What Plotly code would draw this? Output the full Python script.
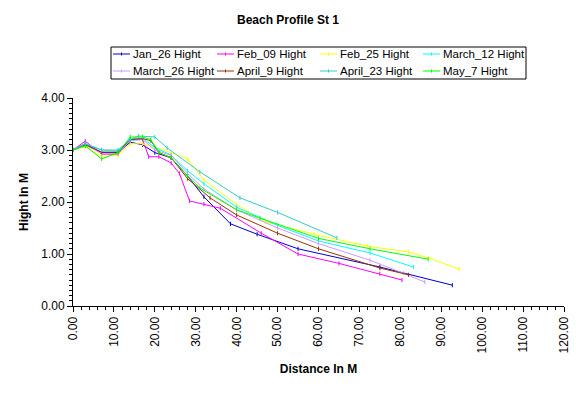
import plotly.graph_objects as go

names = ["Jan_26 Hight", "Feb_09 Hight", "Feb_25 Hight", "March_12 Hight",
         "March_26 Hight", "April_9 Hight", "April_23 Hight", "May_7 Hight"]
colors = ["#0000CC", "#FF00FF", "#FFFF00", "#00FFFF",
          "#CC99FF", "#993300", "#33CCCC", "#00FF00"]

jan26_x = [0, 3, 7, 11, 14, 17, 20, 24, 28, 32, 38.5, 45, 55, 75, 92.7]
jan26_y = [3.0, 3.12, 2.95, 2.95, 3.15, 3.1, 2.95, 2.85, 2.5, 2.1, 1.58, 1.38, 1.1, 0.75, 0.4]

feb09_x = [0, 3, 7, 11, 14, 17, 18.5, 21, 24, 26, 28.5, 32, 36, 46, 55, 65, 75, 80.4]
feb09_y = [3.0, 3.17, 2.92, 2.92, 3.2, 3.2, 2.87, 2.87, 2.75, 2.55, 2.02, 1.96, 1.88, 1.4, 1.0, 0.82, 0.62, 0.5]

feb25_x = [0, 3, 7, 11, 14, 17, 20, 24, 28, 32, 40, 47, 59, 72, 82, 87, 94.4]
feb25_y = [3.0, 3.06, 2.88, 2.9, 3.12, 3.12, 3.05, 2.95, 2.83, 2.42, 1.95, 1.62, 1.38, 1.15, 1.04, 0.92, 0.71]

mar12_x = [0, 3, 7, 11, 14, 17, 20, 24, 28, 32, 40, 50, 60, 72.6, 83.2]
mar12_y = [3.0, 3.12, 3.0, 2.98, 3.22, 3.22, 3.05, 2.9, 2.6, 2.35, 1.9, 1.55, 1.25, 1.02, 0.75]

mar26_x = [0, 3, 7, 11, 14, 17, 20, 24, 28, 32, 40, 50, 60, 72.6, 80.7, 86]
mar26_y = [3.0, 3.1, 2.93, 2.93, 3.18, 3.2, 3.0, 2.9, 2.55, 2.25, 1.85, 1.5, 1.2, 0.88, 0.63, 0.46]

apr09_x = [0, 3, 7, 11, 14, 17, 19, 21, 24, 28, 33.5, 40, 50, 60, 75, 82]
apr09_y = [3.0, 3.1, 2.96, 2.96, 3.2, 3.22, 3.18, 2.95, 2.85, 2.45, 2.08, 1.75, 1.4, 1.1, 0.73, 0.6]

apr23_x = [0, 3, 7, 11, 14, 16, 20, 23, 31, 40.8, 50, 64.5]
apr23_y = [3.0, 3.12, 3.0, 3.0, 3.2, 3.27, 3.25, 3.04, 2.58, 2.08, 1.8, 1.31]

may07_x = [0, 3, 7, 11, 14, 17, 19, 21, 24, 28, 31, 40, 45.7, 60, 72.6, 86.8]
may07_y = [3.0, 3.08, 2.83, 2.95, 3.25, 3.25, 3.2, 2.95, 2.85, 2.5, 2.27, 1.85, 1.69, 1.3, 1.1, 0.9]

xs = [jan26_x, feb09_x, feb25_x, mar12_x, mar26_x, apr09_x, apr23_x, may07_x]
ys = [jan26_y, feb09_y, feb25_y, mar12_y, mar26_y, apr09_y, apr23_y, may07_y]

W, H = 576, 394
ML, MR, MT, MB = 73, 12, 98, 88
PW, PH = W - ML - MR, H - MT - MB


def px_x(p):
    return (p - ML) / PW


def px_y(p):
    return (H - MB - p) / PH


fig = go.Figure()
for n, c, x, y in zip(names, colors, xs, ys):
    fig.add_trace(go.Scatter(x=x, y=y, name=n, mode="lines+markers",
                             line=dict(color=c, width=1),
                             marker=dict(symbol="line-ns", size=3,
                                         line=dict(color=c, width=1)),
                             showlegend=False))

# legend drawn as a boxed block (two rows of four)
shapes = [dict(type="rect", xref="paper", yref="paper",
               x0=px_x(111), x1=px_x(526), y0=px_y(79), y1=px_y(47),
               line=dict(color="black", width=1), fillcolor="white", layer="above")]
annotations = []
col_x = [113, 217, 320, 423]
row_y = [54, 71]
for i, (n, c) in enumerate(zip(names, colors)):
    lx = col_x[i % 4]
    ly = row_y[i // 4]
    shapes.append(dict(type="line", xref="paper", yref="paper",
                       x0=px_x(lx), x1=px_x(lx + 17), y0=px_y(ly), y1=px_y(ly),
                       line=dict(color=c, width=1), layer="above"))
    shapes.append(dict(type="line", xref="paper", yref="paper",
                       x0=px_x(lx + 8.5), x1=px_x(lx + 8.5), y0=px_y(ly - 1.5), y1=px_y(ly + 1.5),
                       line=dict(color=c, width=1), layer="above"))
    annotations.append(dict(text=n, xref="paper", yref="paper",
                            x=px_x(lx + 18), y=px_y(ly), xanchor="left", yanchor="middle",
                            showarrow=False, font=dict(size=11.5, color="black")))

font = "Liberation Sans, Arial, sans-serif"
fig.update_layout(
    width=W, height=H,
    paper_bgcolor="white", plot_bgcolor="white",
    margin=dict(l=ML, r=MR, t=MT, b=MB, autoexpand=False),
    font=dict(family=font, size=12, color="black"),
    title=dict(text="<b>Beach Profile St 1</b>", x=0.5, xanchor="center",
               y=0.95, yanchor="middle", font=dict(size=12)),
    showlegend=False,
    shapes=shapes,
    annotations=annotations,
    xaxis=dict(range=[0, 120], dtick=10, tick0=0, tickformat=".2f", tickangle=-90,
               automargin=False,
               showgrid=False, zeroline=False, showline=True, linecolor="black",
               linewidth=1, ticks="outside", ticklen=5, tickcolor="black",
               minor=dict(dtick=2, ticks="outside", ticklen=3, tickcolor="black"),
               title=dict(text="<b>Distance In M</b>", font=dict(size=12), standoff=12),
               tickfont=dict(size=12)),
    yaxis=dict(range=[0, 4], dtick=1, tick0=0, tickformat=".2f",
               automargin=False,
               showgrid=False, zeroline=False, showline=True, linecolor="black",
               linewidth=1, ticks="outside", ticklen=5, tickcolor="black",
               minor=dict(dtick=0.1, ticks="outside", ticklen=3, tickcolor="black"),
               title=dict(text="<b>Hight In M</b>", font=dict(size=12), standoff=10),
               tickfont=dict(size=12)),
)

fig.write_html("out.html", config={"displayModeBar": False},
               post_script="document.body.style.margin='0';")
